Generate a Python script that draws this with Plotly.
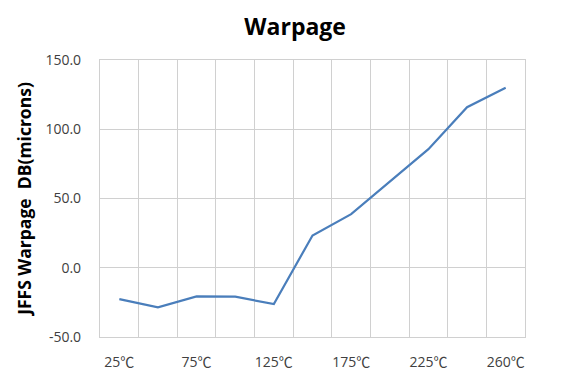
import plotly.graph_objects as go

categories = ["25℃", "50℃", "75℃", "100℃", "125℃", "150℃", "175℃", "200℃", "225℃", "250℃", "260℃"]
warpage = [-22.6, -28.6, -20.7, -20.9, -26.2, 23.3, 38.7, 62.3, 85.6, 115.9, 130.0]
tick_labels = ["25℃", "", "75℃", "", "125℃", "", "175℃", "", "225℃", "", "260℃"]
y_ticks = [-50, 0, 50, 100, 150]

x_pos = list(range(1, len(categories) + 1))
cjk = '<span style="font-family:Noto Sans CJK JP">℃</span>'
tick_text = [t.replace("℃", cjk) for t in tick_labels]

fig = go.Figure()
fig.add_trace(go.Scatter(
    x=x_pos, y=warpage, mode="lines",
    line=dict(color="#4a7ebb", width=2.2),
    text=categories, hoverinfo="text+y",
))

font_family = "Open Sans, Liberation Sans, sans-serif"

fig.update_layout(
    width=563, height=368,
    margin=dict(l=92, r=46, t=52, b=39, autoexpand=False),
    paper_bgcolor="white", plot_bgcolor="white",
    showlegend=False,
    title=dict(text="<b>Warpage</b>", x=0.51, xanchor="center", y=0.948, yanchor="middle",
               font=dict(family=font_family, size=23, color="#000000")),
    font=dict(family=font_family, color="#404040"),
)
fig.update_xaxes(
    range=[0.5, len(categories) + 0.5],
    tickmode="array", tickvals=x_pos, ticktext=tick_text,
    showgrid=False, zeroline=False,
    showline=True, linecolor="#d0d0d0", linewidth=1.2, mirror=True,
    ticks="", tickfont=dict(size=14, color="#404040"),
    ticklabelstandoff=12,
    minor=dict(tick0=0.5, dtick=1, showgrid=True, gridcolor="#d0d0d0", gridwidth=1.2),
    automargin=False,
)
fig.update_yaxes(
    range=[-50, 150], tickmode="array", tickvals=y_ticks,
    ticktext=[f"{v:.1f}" for v in y_ticks],
    showgrid=True, gridcolor="#d0d0d0", gridwidth=1.2,
    zeroline=False,
    showline=True, linecolor="#d0d0d0", linewidth=1.2, mirror=True,
    ticks="", tickfont=dict(size=14, color="#404040"),
    ticklabelstandoff=15,
    automargin=False,
    title=dict(text="<b>JFFS Warpage  DB(microns)</b>", standoff=9,
               font=dict(family=font_family, size=17.5, color="#000000")),
)

fig.write_html("out.html")
